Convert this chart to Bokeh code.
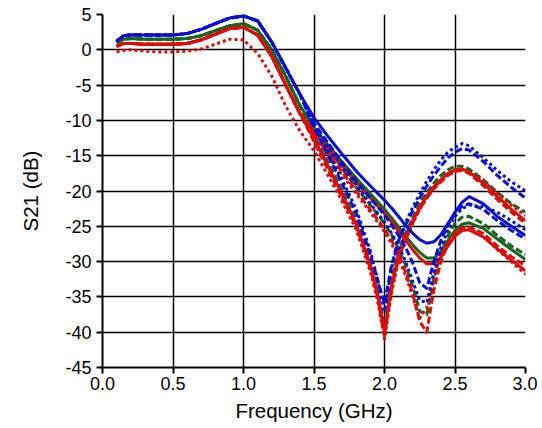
from bokeh.plotting import figure
from bokeh.models import FixedTicker, Range1d
from bokeh.embed import file_html
from bokeh.resources import INLINE

# Frequency grid (GHz)
freq = [0.1, 0.15, 0.2, 0.3, 0.4, 0.5, 0.6, 0.7, 0.8, 0.9, 1.0, 1.1, 1.2, 1.3, 1.4, 1.5,
        1.6, 1.7, 1.8, 1.9, 1.95, 2.0, 2.05, 2.1, 2.15, 2.2, 2.25, 2.3, 2.35, 2.4, 2.45,
        2.5, 2.55, 2.6, 2.7, 2.8, 2.9, 3.0]

# low-frequency parts (0.1 .. 1.4 GHz)
blue_low = [1.2, 2.0, 2.1, 2.1, 2.1, 2.1, 2.3, 2.9, 3.7, 4.5, 4.8, 4.1, 1.1, -2.6, -6.3]
green_low = [1.0, 1.5, 1.6, 1.5, 1.5, 1.5, 1.6, 2.0, 2.7, 3.4, 3.7, 2.8, 0.0, -3.8, -7.9]
red_low = [0.5, 0.9, 0.9, 0.8, 0.8, 0.8, 0.9, 1.4, 2.2, 3.0, 3.2, 2.1, -0.9, -5.0, -9.0]
red_dot_low = [-0.3, -0.1, 0.0, -0.2, -0.3, -0.3, -0.2, 0.1, 0.8, 1.5, 1.4, -0.5, -3.7, -8.0, -11.5]

# notch-at-2.0 GHz group (1.5 .. 3.0 GHz)
a_blue_dot = [-10.5, -14.6, -18.4, -22.6, -28.5, -32.5, -37.0, -31.0, -27.0, -24.5, -22.3, -20.4,
              -18.6, -17.0, -15.6, -14.5, -13.8, -13.3, -13.6, -15.3, -17.1, -18.7, -20.0]
a_blue_dash = [-11.0, -15.0, -19.0, -23.2, -29.0, -32.5, -36.0, -30.5, -27.0, -24.8, -22.8, -21.0,
               -19.3, -17.8, -16.5, -15.3, -14.5, -14.0, -14.2, -15.8, -17.8, -19.5, -21.0]
a_green_dash = [-12.0, -16.0, -20.0, -24.2, -30.0, -34.0, -39.0, -32.5, -28.5, -26.0, -23.8, -21.8,
                -20.2, -18.9, -17.8, -17.0, -16.5, -16.5, -16.9, -18.4, -20.2, -21.8, -23.0]
a_red_solid = [-12.6, -16.5, -20.5, -24.7, -30.5, -34.5, -40.0, -33.5, -29.0, -26.5, -24.2, -22.3,
               -20.7, -19.4, -18.4, -17.5, -17.0, -16.9, -17.3, -18.9, -20.8, -22.6, -24.2]
a_red_dot = [-14.3, -17.8, -21.5, -25.5, -31.5, -35.5, -41.0, -34.5, -29.8, -27.0, -24.6, -22.6,
             -21.0, -19.6, -18.5, -17.6, -17.1, -16.9, -17.3, -18.6, -20.3, -22.0, -23.5]
a_red_dash = [-13.0, -17.0, -21.0, -25.0, -31.0, -35.0, -40.5, -34.0, -29.5, -26.8, -24.5, -22.5,
              -21.0, -19.7, -18.7, -17.8, -17.2, -17.1, -17.5, -19.2, -21.2, -23.0, -24.6]

# notch-at-2.3 GHz group (1.5 .. 3.0 GHz)
b_blue_solid = [-9.6, -12.3, -14.8, -17.2, -19.3, -20.3, -21.3, -22.4, -23.6, -24.9, -26.0, -26.9,
                -27.4, -27.2, -26.2, -24.6, -23.0, -21.6, -20.8, -21.8, -23.6, -25.0, -26.3]
b_blue_dash = [-10.4, -13.2, -16.0, -18.6, -21.0, -22.2, -23.4, -24.8, -26.3, -28.0, -30.2, -33.0,
               -33.8, -30.0, -27.0, -24.8, -23.2, -22.2, -21.8, -22.6, -24.2, -25.6, -26.8]
b_blue_dot = [-10.8, -13.8, -16.6, -19.2, -21.8, -23.1, -24.4, -26.0, -27.8, -30.0, -32.8, -35.5,
              -35.8, -31.5, -28.0, -25.5, -23.6, -22.5, -22.0, -22.2, -23.0, -24.2, -25.5]
b_green_solid = [-11.0, -13.5, -15.9, -18.2, -20.4, -21.5, -22.6, -23.8, -25.1, -26.4, -27.6, -28.7,
                 -29.5, -29.5, -28.6, -27.0, -25.6, -24.7, -24.5, -25.3, -26.8, -28.3, -29.7]
b_green_dash = [-11.3, -14.0, -16.8, -19.5, -22.0, -23.3, -24.6, -26.2, -28.2, -30.5, -33.5, -37.0,
                -37.5, -32.5, -28.8, -26.3, -24.6, -23.7, -23.6, -24.6, -26.3, -27.8, -29.0]
b_red_solid = [-11.6, -14.0, -16.4, -18.8, -21.0, -22.1, -23.2, -24.4, -25.7, -27.0, -28.3, -29.5,
               -30.3, -30.3, -29.4, -27.8, -26.4, -25.6, -25.5, -26.5, -28.2, -29.8, -31.3]
b_red_dash = [-12.0, -14.6, -17.3, -20.0, -22.7, -24.0, -25.4, -27.0, -29.0, -31.5, -34.5, -38.5,
              -40.0, -34.0, -30.0, -27.5, -26.0, -25.2, -25.1, -26.0, -27.8, -29.3, -30.6]
b_red_dot = [-12.4, -15.0, -17.7, -20.4, -23.0, -24.4, -25.8, -27.5, -29.5, -32.0, -35.0, -38.0,
             -36.5, -32.0, -29.0, -27.2, -26.0, -25.4, -25.4, -26.4, -28.3, -30.0, -31.8]

x_ticks = [0.0, 0.5, 1.0, 1.5, 2.0, 2.5, 3.0]
x_tick_labels = ["0.0", "0.5", "1.0", "1.5", "2.0", "2.5", "3.0"]
y_ticks = [5, 0, -5, -10, -15, -20, -25, -30, -35, -40, -45]
y_tick_labels = ["5", "0", "-5", "-10", "-15", "-20", "-25", "-30", "-35", "-40", "-45"]

BLUE = "#0a0fd2"
GREEN = "#17661c"
RED = "#e00a0a"
DASH = "7 3"
DOT = "3 3"

curves = [
    # (low part, high part, color, dash)
    (green_low, a_green_dash, GREEN, DASH),
    (green_low, b_green_solid, GREEN, "solid"),
    (green_low, b_green_dash, GREEN, DASH),
    (red_low, a_red_solid, RED, "solid"),
    (red_dot_low, a_red_dot, RED, DOT),
    (red_low, a_red_dash, RED, DASH),
    (red_low, b_red_solid, RED, "solid"),
    (red_low, b_red_dash, RED, DASH),
    (red_low, b_red_dot, RED, DOT),
    (blue_low, b_blue_solid, BLUE, "solid"),
    (blue_low, b_blue_dash, BLUE, DASH),
    (blue_low, b_blue_dot, BLUE, DOT),
    (blue_low, a_blue_dash, BLUE, DASH),
    (blue_low, a_blue_dot, BLUE, DOT),
]

p = figure(width=537, height=420, output_backend="svg", toolbar_location=None,
           x_range=Range1d(0, 3), y_range=Range1d(-45, 5),
           min_border_left=102, min_border_right=12, min_border_top=14, min_border_bottom=53)
p.frame_width = 423
p.frame_height = 353
p.outline_line_color = None
p.background_fill_color = "white"

for low, high, col, dash in curves:
    ys = list(low) + list(high)
    p.line(freq, ys, line_color=col, line_width=3, line_dash=dash, line_join="round")

for ax in (p.xaxis[0], p.yaxis[0]):
    ax.axis_line_color = "black"
    ax.axis_line_width = 2
    ax.major_tick_line_color = "black"
    ax.major_tick_line_width = 2
    ax.major_tick_out = 6
    ax.major_tick_in = 0
    ax.minor_tick_line_color = None
    ax.major_label_text_font = "Liberation Sans"
    ax.major_label_text_font_size = "18px"
    ax.major_label_text_color = "black"
    ax.axis_label_text_font = "Liberation Sans"
    ax.axis_label_text_font_size = "20.5px"
    ax.axis_label_text_font_style = "normal"
    ax.axis_label_text_color = "black"

p.xaxis.ticker = FixedTicker(ticks=x_ticks)
p.yaxis.ticker = FixedTicker(ticks=y_ticks)
p.xaxis.major_label_overrides = dict(zip(x_ticks, x_tick_labels))
p.yaxis.major_label_overrides = dict(zip(y_ticks, y_tick_labels))
p.xaxis.axis_label = "Frequency (GHz)"
p.yaxis.axis_label = "S21 (dB)"
p.xaxis.major_label_standoff = 3
p.yaxis.major_label_standoff = 5
p.xaxis.axis_label_standoff = 6
p.yaxis.axis_label_standoff = 20

p.xgrid.ticker = FixedTicker(ticks=x_ticks)
p.ygrid.ticker = FixedTicker(ticks=y_ticks)
p.grid.grid_line_color = "black"
p.grid.grid_line_width = 1.5
p.grid.grid_line_alpha = 1.0

open("out.html", "w").write(file_html(p, INLINE))
